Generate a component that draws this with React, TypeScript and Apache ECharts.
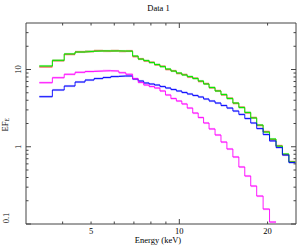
import React, { useEffect, useRef } from 'react';
import * as echarts from 'echarts';

// Energy bin edges (keV)
const binEdges = [3.33, 3.69, 4.05, 4.41, 4.77, 5.12, 5.49, 5.84, 6.22, 6.57, 6.93, 7.24, 7.56, 7.89, 8.23, 8.59, 8.97, 9.36, 9.77, 10.2, 10.64, 11.11, 11.6, 12.1, 12.63, 13.24, 13.87, 14.53, 15.23, 15.96, 16.72, 17.52, 18.36, 19.31, 20.31, 21.37, 22.47, 23.64, 24.87];

// EF_E per bin for each group
const redFlux = [10.8, 13.0, 15.7, 16.9, 17.1, 17.5, 17.3, 17.5, 17.2, 17.4, 14.7, 13.7, 12.9, 12.4, 11.5, 11.0, 10.0, 9.6, 8.9, 8.6, 8.0, 7.7, 7.0, 6.55, 5.8, 5.3, 4.7, 4.25, 3.65, 3.25, 2.75, 2.38, 1.89, 1.57, 1.24, 1.03, 0.79, 0.64];
const greenFlux = [11.1, 13.15, 15.9, 16.85, 17.2, 17.4, 17.4, 17.4, 17.35, 17.3, 14.95, 13.65, 13.05, 12.3, 11.6, 10.9, 10.15, 9.55, 9.0, 8.5, 8.1, 7.65, 7.1, 6.5, 5.85, 5.27, 4.75, 4.21, 3.68, 3.22, 2.78, 2.36, 1.91, 1.55, 1.26, 1.02, 0.805, 0.635];
const blueFlux = [4.45, 5.43, 6.11, 6.89, 7.31, 7.64, 7.88, 8.11, 8.24, 8.24, 7.53, 7.10, 6.69, 6.49, 6.30, 6.02, 5.76, 5.51, 5.27, 5.04, 4.82, 4.61, 4.41, 4.15, 3.91, 3.68, 3.42, 3.17, 2.90, 2.62, 2.32, 2.03, 1.72, 1.44, 1.19, 0.978, 0.782, 0.625];
const magentaFlux = [6.75, 7.83, 8.67, 9.2, 9.42, 9.56, 9.65, 9.56, 9.09, 8.67, 7.6, 6.8, 6.30, 6.02, 5.76, 5.27, 4.68, 4.21, 3.91, 3.58, 3.17, 2.73, 2.39, 2.03, 1.70, 1.42, 1.15, 0.935, 0.737, 0.547, 0.418, 0.310, 0.230, 0.156, 0.106, null, null, null];

// Axis ranges and ticks
const X_MIN = 3;
const X_MAX = 25;
const Y_MIN = 0.1;
const Y_MAX = 40;
const xMinorTicks = [4, 5, 6, 7, 8, 9, 20];
const xMajorTicks = [10];
const xTickLabels = [5, 10, 20];
const yMinorTicks = [0.2, 0.3, 0.4, 0.5, 0.6, 0.7, 0.8, 0.9, 2, 3, 4, 5, 6, 7, 8, 9, 20, 30];
const yMajorTicks = [0.1, 1, 10];
const yTickLabels = [0.1, 1, 10];

const FONT = '"Liberation Serif", "DejaVu Serif", serif';
const AXIS_COLOR = '#444';

type Group = { name: string; color: string; flux: (number | null)[]; modelWidth: number; modelOpacity: number };
const groups: Group[] = [
  { name: 'red', color: '#ff0000', flux: redFlux, modelWidth: 0.7, modelOpacity: 0.6 },
  { name: 'green', color: '#00ee00', flux: greenFlux, modelWidth: 1, modelOpacity: 1 },
  { name: 'blue', color: '#0000ff', flux: blueFlux, modelWidth: 0.9, modelOpacity: 1 },
  { name: 'magenta', color: '#ff00ff', flux: magentaFlux, modelWidth: 0.9, modelOpacity: 1 },
];

function stepPoints(flux: (number | null)[]) {
  const pts: any[] = [];
  flux.forEach((v, i) => {
    if (v == null) return;
    pts.push([binEdges[i], v]);
    pts.push([binEdges[i + 1], v]);
  });
  return pts;
}

function binItems(flux: (number | null)[]) {
  const items: any[] = [];
  flux.forEach((v, i) => {
    if (v == null) return;
    items.push([Math.sqrt(binEdges[i] * binEdges[i + 1]), v, binEdges[i], binEdges[i + 1]]);
  });
  return items;
}

export default function App() {
  const ref = useRef<HTMLDivElement>(null);
  useEffect(() => {
    document.body.style.margin = '0';
    if (!ref.current) return;
    const chart = echarts.init(ref.current, undefined, { renderer: 'svg' });

    const series: any[] = [];
    groups.forEach((g) => {
      series.push({
        type: 'custom',
        name: g.name + '-data',
        coordinateSystem: 'cartesian2d',
        data: binItems(g.flux),
        encode: { x: 0, y: 1 },
        renderItem: (params: any, api: any) => {
          const v = api.value(1);
          const p1 = api.coord([api.value(2), v]);
          const p2 = api.coord([api.value(3), v]);
          return {
            type: 'line',
            shape: { x1: p1[0], y1: p1[1], x2: p2[0], y2: p2[1] },
            style: { stroke: g.color, lineWidth: 2.2, opacity: 0.3 },
          };
        },
        silent: true,
      });
      series.push({
        type: 'line',
        name: g.name + '-model',
        data: stepPoints(g.flux),
        showSymbol: false,
        symbol: 'none',
        lineStyle: { color: g.color, width: g.modelWidth, opacity: g.modelOpacity },
        silent: true,
      });
    });

    const tickItems: any[] = [
      ...xMinorTicks.map((v) => [v, Y_MIN, 0]),
      ...xMajorTicks.map((v) => [v, Y_MIN, 1]),
      ...yMinorTicks.map((v) => [X_MIN, v, 2]),
      ...yMajorTicks.map((v) => [X_MIN, v, 3]),
    ];
    series.push({
      type: 'custom',
      name: 'ticks',
      coordinateSystem: 'cartesian2d',
      data: tickItems,
      encode: { x: 0, y: 1 },
      clip: false,
      silent: true,
      renderItem: (params: any, api: any) => {
        const kind = api.value(2);
        const st = { stroke: AXIS_COLOR, lineWidth: 1 };
        if (kind < 2) {
          const x = api.value(0);
          const b = api.coord([x, Y_MIN]);
          const t = api.coord([x, Y_MAX]);
          const len = kind === 1 ? 5 : 2.5;
          return {
            type: 'group',
            children: [
              { type: 'line', shape: { x1: b[0], y1: b[1], x2: b[0], y2: b[1] - len }, style: st },
              { type: 'line', shape: { x1: t[0], y1: t[1], x2: t[0], y2: t[1] + len }, style: st },
            ],
          };
        }
        const y = api.value(1);
        const l = api.coord([X_MIN, y]);
        const r = api.coord([X_MAX, y]);
        const len = kind === 3 ? 5 : 2.5;
        return {
          type: 'group',
          children: [
            { type: 'line', shape: { x1: l[0], y1: l[1], x2: l[0] + len, y2: l[1] }, style: st },
            { type: 'line', shape: { x1: r[0], y1: r[1], x2: r[0] - len, y2: r[1] }, style: st },
          ],
        };
      },
    });

    series.push({
      type: 'custom',
      name: 'xlabels',
      coordinateSystem: 'cartesian2d',
      data: xTickLabels.map((v) => [v, Y_MIN]),
      encode: { x: 0, y: 1 },
      clip: false,
      silent: true,
      renderItem: (params: any, api: any) => {
        const v = api.value(0);
        const p = api.coord([v, Y_MIN]);
        return {
          type: 'text',
          x: p[0],
          y: p[1] + 6.5,
          style: { text: String(v), fontSize: 8.5, fontFamily: FONT, fill: '#000', align: 'center', verticalAlign: 'middle' },
        };
      },
    });

    series.push({
      type: 'custom',
      name: 'ylabels',
      coordinateSystem: 'cartesian2d',
      data: yTickLabels.map((v) => [X_MIN, v]),
      encode: { x: 0, y: 1 },
      clip: false,
      silent: true,
      renderItem: (params: any, api: any) => {
        const v = api.value(1);
        const p = api.coord([X_MIN, v]);
        const off = v < 1 ? 20.5 : 8;
        return {
          type: 'text',
          x: p[0] - off,
          y: p[1] - (v < 1 ? 6 : 0),
          rotation: Math.PI / 2,
          style: { text: String(v), fontSize: 8.5, fontFamily: FONT, fill: '#000', align: 'center', verticalAlign: 'middle' },
        };
      },
    });

    chart.setOption({
      animation: false,
      grid: { left: 26, right: 1, top: 23, bottom: 21, show: true, borderColor: AXIS_COLOR, borderWidth: 1, backgroundColor: 'transparent' },
      xAxis: {
        type: 'log',
        logBase: 10,
        min: X_MIN,
        max: X_MAX,
        axisLine: { show: false },
        axisTick: { show: false },
        axisLabel: { show: false },
        splitLine: { show: false },
      },
      yAxis: {
        type: 'log',
        logBase: 10,
        min: Y_MIN,
        max: Y_MAX,
        axisLine: { show: false },
        axisTick: { show: false },
        axisLabel: { show: false },
        splitLine: { show: false },
      },
      graphic: [
        {
          type: 'text',
          x: 158.5,
          y: 8,
          style: { text: 'Data 1', fontSize: 8.5, fontFamily: FONT, fill: '#000', align: 'center', verticalAlign: 'middle' },
        },
        {
          type: 'text',
          x: 158,
          y: 239.5,
          style: { text: 'Energy (keV)', fontSize: 8.5, fontFamily: FONT, fill: '#000', align: 'center', verticalAlign: 'middle' },
        },
        {
          type: 'group',
          x: 4.5,
          y: 121,
          rotation: Math.PI / 2,
          children: [
            { type: 'text', x: -0.5, y: 0, style: { text: 'EF', fontSize: 8.5, fontFamily: FONT, fill: '#000', align: 'right', verticalAlign: 'middle' } },
            { type: 'text', x: -0.5, y: 2.5, style: { text: 'E', fontSize: 6, fontFamily: FONT, fill: '#000', align: 'left', verticalAlign: 'middle' } },
          ],
        },
      ],
      series,
    });
    return () => chart.dispose();
  }, []);
  return <div ref={ref} style={{ width: 297, height: 245 }} />;
}
